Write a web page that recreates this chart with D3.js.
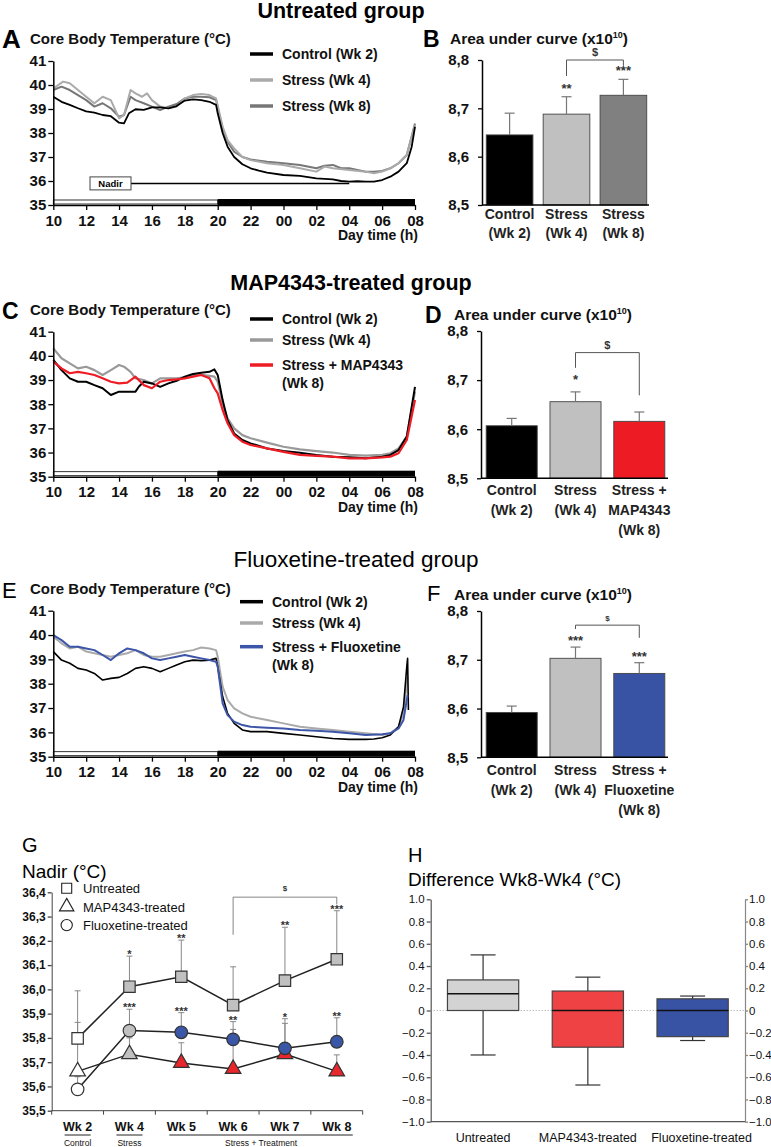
<!DOCTYPE html>
<html>
<head>
<meta charset="utf-8">
<script src="https://cdn.jsdelivr.net/npm/d3@7"></script>
<style>
  body { margin: 0; background: #fff; }
  svg { font-family: "Liberation Sans", Arial, sans-serif; }
</style>
</head>
<body>
<svg id="fig" width="771" height="1147"></svg>
<script>
// ---- Data ----------------------------------------------------------------
// Time axis: hours after 10:00 (0..22), temperatures in °C
var hourTicks = [0, 2, 4, 6, 8, 10, 12, 14, 16, 18, 20, 22];
var hourLabels = ["10", "12", "14", "16", "18", "20", "22", "00", "02", "04", "06", "08"];
var tempTicks = [35, 36, 37, 38, 39, 40, 41];

// A - Untreated group
var aControl = [[0,39.51],[0.5,39.3],[1,39.17],[1.5,39.03],[2,38.9],[2.5,38.85],[3,38.75],[3.5,38.7],[4,38.43],[4.3,38.4],[4.6,38.82],[5,38.99],[5.5,38.96],[6,39.07],[6.5,39.07],[7,39.03],[7.5,39.12],[8,39.35],[8.5,39.4],[9,39.37],[9.5,39.3],[9.9,39.17],[10,38.82],[10.3,38.0],[10.6,37.43],[11,37.0],[11.5,36.7],[12,36.53],[12.5,36.43],[13,36.35],[14,36.25],[15,36.21],[16,36.11],[17,36.07],[17.5,36.0],[18,35.97],[18.5,35.99],[19,35.97],[19.5,35.97],[20,36.04],[20.5,36.18],[21,36.39],[21.5,36.74],[21.8,37.43],[22,38.26]];
var aStress4 = [[0,39.86],[0.3,40.0],[0.6,40.14],[1,40.07],[1.5,39.79],[2,39.51],[2.5,39.24],[3,39.51],[3.5,39.37],[4,38.61],[4.3,38.75],[4.7,39.79],[5,39.65],[5.4,39.51],[5.7,39.65],[6,39.37],[6.5,39.1],[7,39.03],[7.5,39.1],[8,39.44],[8.5,39.58],[9,39.63],[9.5,39.58],[9.9,39.44],[10.3,38.26],[10.6,37.7],[11,37.36],[11.5,37.0],[12,36.87],[13,36.74],[14,36.67],[15,36.53],[16,36.39],[16.5,36.6],[17,36.53],[18,36.46],[19,36.39],[19.5,36.32],[20,36.39],[20.5,36.53],[21,36.74],[21.5,37.08],[22,38.33]];
var aStress8 = [[0,39.79],[0.5,39.93],[1,39.79],[1.5,39.58],[2,39.37],[2.5,39.1],[3,39.24],[3.5,39.03],[4,38.68],[4.3,38.75],[4.7,39.51],[5,39.37],[5.5,39.24],[6,39.1],[6.5,38.96],[7,39.1],[7.5,39.21],[8,39.44],[8.5,39.51],[9,39.51],[9.5,39.49],[9.9,39.37],[10.3,38.19],[10.6,37.64],[11,37.22],[11.5,37.0],[12,36.9],[13,36.8],[14,36.74],[15,36.67],[16,36.53],[16.5,36.64],[17,36.67],[17.5,36.53],[18,36.53],[18.5,36.46],[19,36.39],[19.5,36.39],[20,36.42],[20.5,36.53],[21,36.74],[21.5,37.08],[22,38.4]];

// C - MAP4343-treated group
var cControl = [[0,39.83],[0.5,39.41],[1,39.07],[1.5,38.93],[2,38.93],[2.5,38.79],[3,38.66],[3.5,38.38],[4,38.52],[4.5,38.52],[5,38.52],[5.2,38.72],[5.5,38.93],[6,38.86],[6.5,38.72],[7,38.86],[7.5,38.97],[8,39.14],[8.5,39.25],[9,39.3],[9.5,39.34],[9.8,39.44],[10,39.21],[10.3,38.17],[10.6,37.34],[11,36.79],[11.5,36.52],[12,36.38],[13,36.17],[14,36.06],[15,35.99],[16,35.9],[17,35.83],[18,35.8],[19,35.76],[20,35.83],[20.5,35.9],[21,36.1],[21.5,36.66],[22,38.72]];
var cStress4 = [[0,40.31],[0.5,39.9],[1,39.69],[1.5,39.48],[2,39.55],[2.5,39.41],[3,39.21],[3.5,39.41],[4,39.62],[4.3,39.55],[4.7,39.34],[5,39.07],[5.5,39.0],[6,38.86],[6.5,39.07],[7,39.07],[7.5,39.07],[8,39.11],[8.5,39.21],[9,39.21],[9.5,39.17],[9.8,39.14],[10,38.93],[10.3,38.03],[10.6,37.41],[11,37.0],[11.5,36.72],[12,36.59],[13,36.41],[14,36.24],[15,36.13],[16,36.06],[17,36.0],[18,35.9],[19,35.87],[20,35.9],[20.5,35.97],[21,36.17],[21.5,36.66],[22,38.52]];
var cMap8 = [[0,39.76],[0.5,39.48],[1,39.28],[1.5,39.34],[2,39.28],[2.5,39.21],[3,39.07],[3.5,38.93],[4,38.86],[4.5,38.89],[5,39.14],[5.5,38.79],[6,38.66],[6.5,38.93],[7,39.0],[7.5,39.03],[8,39.07],[8.5,39.14],[9,39.21],[9.5,39.07],[9.8,38.66],[10,38.45],[10.3,37.76],[10.6,37.21],[11,36.72],[11.5,36.45],[12,36.31],[13,36.17],[14,36.03],[15,35.9],[16,35.86],[17,35.83],[18,35.76],[19,35.76],[20,35.8],[20.5,35.83],[21,35.97],[21.5,36.52],[22,38.17]];

// E - Fluoxetine-treated group
var eControl = [[0,39.32],[0.5,38.97],[1,38.84],[1.5,38.63],[2,38.56],[2.5,38.42],[3,38.15],[3.5,38.22],[4,38.26],[4.5,38.42],[5,38.63],[5.5,38.7],[6,38.63],[6.5,38.49],[7,38.63],[7.5,38.77],[8,38.9],[8.5,38.97],[9,38.95],[9.5,38.97],[9.9,39.04],[10,38.7],[10.3,37.47],[10.6,36.78],[11,36.37],[11.5,36.1],[12,36.03],[13,36.03],[14,35.96],[15,35.89],[16,35.82],[17,35.75],[18,35.71],[19,35.71],[19.5,35.73],[20,35.78],[20.5,35.89],[21,36.23],[21.3,37.05],[21.5,38.7],[21.55,39.04],[21.6,36.92]];
var eStress4 = [[0,39.93],[0.5,39.66],[1,39.45],[1.5,39.52],[2,39.32],[2.5,39.25],[3,39.18],[3.5,39.11],[4,39.18],[4.5,39.25],[5,39.38],[5.5,39.18],[6,39.11],[6.5,39.11],[7,39.18],[7.5,39.25],[8,39.32],[8.5,39.38],[9,39.49],[9.5,39.45],[9.9,39.38],[10,39.11],[10.3,37.88],[10.6,37.33],[11,36.99],[11.5,36.78],[12,36.64],[13,36.51],[14,36.37],[15,36.23],[16,36.16],[17,36.1],[18,36.03],[19,35.96],[20,35.89],[20.5,35.96],[21,36.23],[21.3,36.78],[21.55,38.29]];
var eFluox8 = [[0,40.0],[0.5,39.79],[1,39.52],[1.5,39.52],[2,39.45],[2.5,39.38],[3,39.18],[3.5,38.97],[4,39.25],[4.5,39.45],[5,39.38],[5.5,39.25],[6,39.04],[6.5,38.97],[7,39.04],[7.5,39.11],[8,39.18],[8.5,39.11],[9,39.04],[9.5,38.97],[9.9,38.9],[10,38.7],[10.3,37.19],[10.6,36.71],[11,36.44],[11.5,36.3],[12,36.23],[13,36.19],[14,36.16],[15,36.1],[16,36.07],[17,36.03],[18,35.96],[19,35.89],[20,35.92],[20.5,35.96],[21,36.16],[21.3,36.51],[21.55,37.53]];

// B / D / F - area under curve (x10^10): mean and top of error bar
var aucTicks = [8.5, 8.6, 8.7, 8.8];
var bLabels = [["Control", "(Wk 2)"], ["Stress", "(Wk 4)"], ["Stress", "(Wk 8)"]];
var bMean = [8.645, 8.688, 8.727];
var bHi = [8.690, 8.724, 8.760];
var bStars = ["", "**", "***"];
var dLabels = [["Control", "(Wk 2)"], ["Stress", "(Wk 4)"], ["Stress +", "MAP4343", "(Wk 8)"]];
var dMean = [8.607, 8.656, 8.616];
var dHi = [8.622, 8.676, 8.635];
var dStars = ["", "*", ""];
var fLabels = [["Control", "(Wk 2)"], ["Stress", "(Wk 4)"], ["Stress +", "Fluoxetine", "(Wk 8)"]];
var fMean = [8.592, 8.703, 8.672];
var fHi = [8.605, 8.726, 8.694];
var fStars = ["", "***", "***"];

// G - nadir per week: mean and top of error bar
var weeks = ["Wk 2", "Wk 4", "Wk 5", "Wk 6", "Wk 7", "Wk 8"];
var nadirTicks = [35.5, 35.6, 35.7, 35.8, 35.9, 36.0, 36.1, 36.2, 36.3, 36.4];
var nadirUntreated = [35.798, 36.011, 36.052, 35.935, 36.036, 36.124];
var nadirUntreatedHi = [35.994, 36.137, 36.203, 36.093, 36.256, 36.324];
var nadirUntreatedStars = ["", "*", "**", "", "**", "***"];
var nadirMap = [35.662, 35.733, 35.697, 35.672, 35.733, 35.662];
var nadirMapHi = [35.864, 35.800, 35.780, 35.835, 35.860, 35.730];
var nadirFluox = [35.588, 35.830, 35.823, 35.794, 35.757, 35.784];
var nadirFluoxHi = [35.640, 35.918, 35.904, 35.867, 35.879, 35.883];
var nadirFluoxStars = ["", "***", "***", "**", "*", "**"];

// H - difference Wk8-Wk4 box plots
var diffGroups = ["Untreated", "MAP4343-treated", "Fluoxetine-treated"];
var diffTicks = [-1, -0.8, -0.6, -0.4, -0.2, 0, 0.2, 0.4, 0.6, 0.8, 1];
var diffMin = [-0.40, -0.67, -0.27];
var diffQ1 = [0.0, -0.33, -0.235];
var diffMed = [0.15, 0.0, 0.0];
var diffQ3 = [0.275, 0.175, 0.105];
var diffMax = [0.50, 0.30, 0.13];

// ---- Drawing -------------------------------------------------------------
var svg = d3.select("#fig");
var FONT = "'Liberation Sans', Arial, sans-serif";

function txt(g, x, y, s, size, weight, anchor, fill) {
    return g.append("text")
        .attr("x", x).attr("y", y).text(s)
        .attr("font-size", size)
        .attr("font-weight", weight || "normal")
        .attr("text-anchor", anchor || "start")
        .attr("fill", fill || "#000");
}

function styleAxis(sel, size, weight, color) {
    sel.select(".domain").attr("stroke", color || "#000").attr("stroke-width", 1.5);
    sel.selectAll(".tick line").attr("stroke", color || "#000").attr("stroke-width", 1.3);
    sel.selectAll(".tick text")
        .attr("font-size", size)
        .attr("font-weight", weight || "bold")
        .attr("font-family", FONT)
        .attr("fill", "#111");
}

// group titles
txt(svg, 341, 18, "Untreated group", 21.5, "bold", "middle");
txt(svg, 351, 290, "MAP4343-treated group", 21.5, "bold", "middle");
txt(svg, 356, 567, "Fluoxetine-treated group", 22.5, "normal", "middle");

// Core body temperature panels
function timePanel(o) {
    var g = svg.append("g");
    var x = d3.scaleLinear().domain([0, 22]).range([53.3, 415]);
    var y = d3.scaleLinear().domain([35, 41]).range([o.y35, o.y41]);

    // light / dark phase bar
    g.append("rect")
        .attr("x", x(0)).attr("y", y(35) - 5)
        .attr("width", x(10) - x(0)).attr("height", 4)
        .attr("fill", "#fff").attr("stroke", "#000").attr("stroke-width", 0.8);
    g.append("rect")
        .attr("x", x(10)).attr("y", y(35) - 6)
        .attr("width", x(22) - x(10)).attr("height", 6)
        .attr("fill", "#000");

    var line = d3.line().x(function(d) { return x(d[0]); }).y(function(d) { return y(d[1]); });
    o.series.forEach(function(s) {
        g.append("path").datum(s.data)
            .attr("d", line)
            .attr("fill", "none")
            .attr("stroke", s.color)
            .attr("stroke-width", s.w)
            .attr("stroke-linejoin", "round");
    });

    g.append("g")
        .attr("transform", "translate(" + x(0) + ",0)")
        .call(d3.axisLeft(y).tickValues(tempTicks).tickSize(5).tickSizeOuter(0).tickPadding(2).tickFormat(d3.format("d")))
        .call(styleAxis, 15);
    g.append("g")
        .attr("transform", "translate(0," + y(35) + ")")
        .call(d3.axisBottom(x).tickValues(hourTicks).tickSize(5).tickSizeOuter(0).tickPadding(5)
            .tickFormat(function(d, i) { return hourLabels[i]; }))
        .call(styleAxis, 15);

    txt(g, 2, o.y41 - 13, o.letter, o.letterSize, o.letterWeight);
    txt(g, 30, o.y41 - 17, "Core Body Temperature (°C)", 15, "bold", "start", "#111");
    txt(g, 418, y(35) + 35, "Day time (h)", 14, "bold", "end", "#111");

    // legend
    o.legend.forEach(function(l) {
        g.append("line")
            .attr("x1", o.lx).attr("x2", o.lx + 23)
            .attr("y1", l.y).attr("y2", l.y)
            .attr("stroke", l.color).attr("stroke-width", 3.5);
        l.text.forEach(function(t, i) {
            txt(g, o.lx + 32, l.y + 5 + i * 18, t, 14, "bold", "start", "#111");
        });
    });
    if (o.extra) o.extra(g, x, y);
}

timePanel({
    letter: "A", letterSize: 26, letterWeight: "bold",
    y35: 205, y41: 61, lx: 250,
    series: [
        { data: aStress8, color: "#777", w: 2 },
        { data: aStress4, color: "#aaa", w: 2 },
        { data: aControl, color: "#000", w: 1.8 }
    ],
    legend: [
        { y: 54, color: "#000", text: ["Control (Wk 2)"] },
        { y: 80, color: "#aaa", text: ["Stress (Wk 4)"] },
        { y: 106, color: "#777", text: ["Stress (Wk 8)"] }
    ],
    extra: function(g, x, y) {
        g.append("line")
            .attr("x1", 131).attr("x2", x(18))
            .attr("y1", y(35.9)).attr("y2", y(35.9))
            .attr("stroke", "#000").attr("stroke-width", 1.5);
        g.append("rect")
            .attr("x", 90).attr("y", y(35.9) - 6.5)
            .attr("width", 41).attr("height", 13)
            .attr("fill", "#fff").attr("stroke", "#444").attr("stroke-width", 1);
        txt(g, 110.5, y(35.9) + 3.5, "Nadir", 9.5, "bold", "middle");
    }
});

timePanel({
    letter: "C", letterSize: 23, letterWeight: "bold",
    y35: 476.7, y41: 331.7, lx: 250,
    series: [
        { data: cStress4, color: "#999", w: 2.2 },
        { data: cControl, color: "#000", w: 2 },
        { data: cMap8, color: "#ee1c25", w: 2.2 }
    ],
    legend: [
        { y: 319, color: "#000", text: ["Control (Wk 2)"] },
        { y: 340, color: "#999", text: ["Stress (Wk 4)"] },
        { y: 365, color: "#ee1c25", text: ["Stress + MAP4343", "(Wk 8)"] }
    ]
});

timePanel({
    letter: "E", letterSize: 22, letterWeight: "normal",
    y35: 756.7, y41: 610.7, lx: 240,
    series: [
        { data: eStress4, color: "#aaa", w: 2 },
        { data: eControl, color: "#000", w: 1.6 },
        { data: eFluox8, color: "#3d55a8", w: 2 }
    ],
    legend: [
        { y: 601.7, color: "#000", text: ["Control (Wk 2)"] },
        { y: 623, color: "#aaa", text: ["Stress (Wk 4)"] },
        { y: 646.7, color: "#3d55a8", text: ["Stress + Fluoxetine", "(Wk 8)"] }
    ]
});

// Area under curve bar panels
function barPanel(o) {
    var g = svg.append("g");
    var y = d3.scaleLinear().domain([8.5, 8.8]).range([o.y85, o.y88]);
    var x = d3.scaleBand().domain(d3.range(o.mean.length))
        .range([o.x0 + 2, o.x1]).paddingInner(o.pi).paddingOuter(o.po);
    var bw = x.bandwidth();

    g.selectAll(".bar").data(o.mean).enter().append("rect")
        .attr("x", function(d, i) { return x(i); })
        .attr("y", function(d) { return y(d); })
        .attr("width", bw)
        .attr("height", function(d) { return y(8.5) - y(d); })
        .attr("fill", function(d, i) { return o.colors[i]; })
        .attr("stroke", "#444").attr("stroke-width", 0.9);

    o.mean.forEach(function(m, i) {
        var cx = x(i) + bw / 2;
        g.append("line").attr("x1", cx).attr("x2", cx).attr("y1", y(m)).attr("y2", y(o.hi[i]))
            .attr("stroke", "#777").attr("stroke-width", 1.2);
        g.append("line").attr("x1", cx - 5).attr("x2", cx + 5).attr("y1", y(o.hi[i])).attr("y2", y(o.hi[i]))
            .attr("stroke", "#777").attr("stroke-width", 1.2);
        if (o.stars[i]) txt(g, cx, y(o.hi[i]) + o.starDy, o.stars[i], 13, "bold", "middle", "#333");
        o.labels[i].forEach(function(t, j) {
            txt(g, cx, y(8.5) + o.lab0 + j * o.lh, t, 14, "bold", "middle", "#222");
        });
    });

    // significance bracket
    var xl = x(1) + bw / 2, xr = x(2) + bw / 2;
    g.append("path")
        .attr("d", "M" + xl + "," + y(o.br[1]) + "V" + y(o.br[0]) + "H" + xr + "V" + y(o.br[2]))
        .attr("fill", "none").attr("stroke", "#555").attr("stroke-width", 1);
    txt(g, (xl + xr) / 2, y(o.br[0]) - 4, "$", o.dollarSize, "bold", "middle", "#333");

    g.append("g")
        .attr("transform", "translate(" + o.x0 + ",0)")
        .call(d3.axisLeft(y).tickValues(aucTicks).tickSize(4).tickSizeOuter(0).tickPadding(9)
            .tickFormat(function(d) { return d3.format(".1f")(d).replace(".", ","); }))
        .call(styleAxis, 15);
    g.append("line").attr("x1", o.x0).attr("x2", o.x1).attr("y1", y(8.5)).attr("y2", y(8.5))
        .attr("stroke", "#000").attr("stroke-width", 1.5);

    txt(g, o.letterX, o.letterY, o.letter, o.letterSize, o.letterWeight);
    var t = txt(g, o.titleX, o.titleY, "Area under curve (x10", 15.5, "bold", "start", "#111");
    t.append("tspan").attr("font-size", 9).attr("dy", -6).text("10");
    t.append("tspan").attr("dy", 6).text(")");
}

barPanel({
    letter: "B", letterX: 423, letterY: 47, letterSize: 23, letterWeight: "bold",
    titleX: 450, titleY: 44,
    y85: 205, y88: 60, x0: 482, x1: 649, pi: 0.18, po: 0.04,
    mean: bMean, hi: bHi, stars: bStars, labels: bLabels,
    colors: ["#000", "#c0c0c0", "#808080"],
    starDy: -4, lab0: 14, lh: 19,
    br: [8.8, 8.767, 8.788], dollarSize: 11
});

barPanel({
    letter: "D", letterX: 425, letterY: 323, letterSize: 23, letterWeight: "bold",
    titleX: 454, titleY: 320,
    y85: 478.3, y88: 331, x0: 481, x1: 668, pi: 0.2, po: 0.05,
    mean: dMean, hi: dHi, stars: dStars, labels: dLabels,
    colors: ["#000", "#c0c0c0", "#ed1c24"],
    starDy: -8, lab0: 17, lh: 20,
    br: [8.756, 8.725, 8.669], dollarSize: 11
});

barPanel({
    letter: "F", letterX: 427, letterY: 601, letterSize: 22, letterWeight: "normal",
    titleX: 454, titleY: 600,
    y85: 757.3, y88: 611, x0: 481, x1: 668, pi: 0.2, po: 0.05,
    mean: fMean, hi: fHi, stars: fStars, labels: fLabels,
    colors: ["#000", "#c0c0c0", "#3953a4"],
    starDy: -2, lab0: 18, lh: 20,
    br: [8.771, 8.763, 8.745], dollarSize: 8
});

// ---- G: nadir -------------------------------------------------------------
var gG = svg.append("g");
var gx = d3.scaleBand().domain(weeks).range([51.7, 362.7]);
var gy = d3.scaleLinear().domain([35.5, 36.4]).range([1110.7, 892.3]);
var gc = function(w) { return gx(w) + gx.bandwidth() / 2; };
var weekFill = function(i, late) { return i === 0 ? "#fff" : (i === 1 ? "#c0c0c0" : late); };

txt(gG, 22, 852, "G", 20, "normal");
txt(gG, 22, 878, "Nadir (°C)", 19, "normal");

gG.append("g")
    .attr("transform", "translate(51.7,0)")
    .call(d3.axisLeft(gy).tickValues(nadirTicks).tickSize(4).tickSizeOuter(0).tickPadding(2)
        .tickFormat(function(d) { return d3.format(".1f")(d).replace(".", ","); }))
    .call(styleAxis, 12, "bold", "#444");
gG.selectAll(".domain").attr("stroke-width", 1);
gG.append("line").attr("x1", 51.7).attr("x2", 362.7).attr("y1", gy(35.5)).attr("y2", gy(35.5))
    .attr("stroke", "#444").attr("stroke-width", 1);
weeks.concat(["end"]).forEach(function(w, i) {
    var xx = 51.7 + i * gx.step();
    gG.append("line").attr("x1", xx).attr("x2", xx).attr("y1", gy(35.5)).attr("y2", gy(35.5) + 4)
        .attr("stroke", "#444").attr("stroke-width", 1);
});

var nadirSeries = [
    { mean: nadirUntreated, hi: nadirUntreatedHi, stars: nadirUntreatedStars, shape: d3.symbolSquare, size: 130, late: "#c0c0c0" },
    { mean: nadirMap, hi: nadirMapHi, stars: null, shape: d3.symbolTriangle, size: 105, late: "#e8262b" },
    { mean: nadirFluox, hi: nadirFluoxHi, stars: nadirFluoxStars, shape: d3.symbolCircle, size: 125, late: "#3a56a6" }
];

// error bars
nadirSeries.forEach(function(s) {
    weeks.forEach(function(w, i) {
        var cx = gc(w);
        gG.append("line").attr("x1", cx).attr("x2", cx).attr("y1", gy(s.mean[i])).attr("y2", gy(s.hi[i]))
            .attr("stroke", "#888").attr("stroke-width", 1);
        gG.append("line").attr("x1", cx - 3).attr("x2", cx + 3).attr("y1", gy(s.hi[i])).attr("y2", gy(s.hi[i]))
            .attr("stroke", "#888").attr("stroke-width", 1);
    });
});
// connecting lines
var gLine = d3.line().x(function(d, i) { return gc(weeks[i]); }).y(function(d) { return gy(d); });
nadirSeries.forEach(function(s) {
    gG.append("path").datum(s.mean).attr("d", gLine)
        .attr("fill", "none").attr("stroke", "#222").attr("stroke-width", 1.5);
});
// markers
nadirSeries.forEach(function(s) {
    var sym = d3.symbol().type(s.shape).size(s.size);
    weeks.forEach(function(w, i) {
        gG.append("path").attr("d", sym())
            .attr("transform", "translate(" + gc(w) + "," + gy(s.mean[i]) + ")")
            .attr("fill", weekFill(i, s.late)).attr("stroke", "#333").attr("stroke-width", 1.2);
    });
    if (s.stars) {
        weeks.forEach(function(w, i) {
            if (s.stars[i]) txt(gG, gc(w), gy(s.hi[i]) + 2, s.stars[i], 11, "bold", "middle", "#333");
        });
    }
});

// $ bracket Wk6 - Wk8
gG.append("path")
    .attr("d", "M" + gc("Wk 6") + "," + gy(36.225) + "V" + gy(36.38) + "H" + gc("Wk 8") + "V" + gy(36.35))
    .attr("fill", "none").attr("stroke", "#666").attr("stroke-width", 0.8);
txt(gG, (gc("Wk 6") + gc("Wk 8")) / 2, gy(36.38) - 6, "$", 8, "bold", "middle", "#333");

// legend
[["Untreated", d3.symbolSquare, 100], ["MAP4343-treated", d3.symbolTriangle, 90], ["Fluoxetine-treated", d3.symbolCircle, 100]]
    .forEach(function(l, i) {
        var ly = 888.3 + i * 18.4;
        gG.append("path").attr("d", d3.symbol().type(l[1]).size(l[2])())
            .attr("transform", "translate(66.7," + ly + ")")
            .attr("fill", "#fff").attr("stroke", "#222").attr("stroke-width", 1.1);
        txt(gG, 83, ly + 5, l[0], 13, "normal", "start", "#111");
    });

// x labels with group underlines
weeks.forEach(function(w) { txt(gG, gc(w), 1131, w, 12.5, "bold", "middle", "#111"); });
[["Control", 0, 0], ["Stress", 1, 1], ["Stress + Treatment", 2, 5]].forEach(function(u) {
    var a = gc(weeks[u[1]]), b = gc(weeks[u[2]]);
    var x1 = u[1] === u[2] ? a - 13 : a - 12, x2 = u[1] === u[2] ? a + 13 : b + 16;
    gG.append("line").attr("x1", x1).attr("x2", x2).attr("y1", 1135).attr("y2", 1135)
        .attr("stroke", "#222").attr("stroke-width", 1);
    txt(gG, (x1 + x2) / 2, 1145.5, u[0], 8.5, "normal", "middle", "#111");
});

// ---- H: difference box plots ----------------------------------------------
var gH = svg.append("g");
var hx = d3.scaleBand().domain(diffGroups).range([430.7, 745]).paddingInner(0.32).paddingOuter(0.16);
var hy = d3.scaleLinear().domain([-1, 1]).range([1121.7, 899.3]);
var boxColors = ["#d3d3d3", "#ee4245", "#3953a4"];
var labelShift = [0, 0, 9];
var tickFmt = function(d) { return d === 0 ? "0" : d3.format(".1f")(d); };

txt(gH, 408, 862, "H", 20, "normal");
txt(gH, 408, 886, "Difference Wk8-Wk4 (°C)", 19, "normal");

gH.append("g").attr("transform", "translate(430.7,0)")
    .call(d3.axisLeft(hy).tickValues(diffTicks).tickSize(4).tickSizeOuter(0).tickPadding(2).tickFormat(tickFmt))
    .call(styleAxis, 11.5, "normal", "#555");
gH.append("g").attr("transform", "translate(745,0)")
    .call(d3.axisRight(hy).tickValues(diffTicks).tickSize(3).tickSizeOuter(0).tickPadding(1).tickFormat(tickFmt))
    .call(styleAxis, 11.5, "normal", "#888");
gH.selectAll(".domain").attr("stroke-width", 1.2);
gH.append("line").attr("x1", 430.7).attr("x2", 745).attr("y1", hy(-1)).attr("y2", hy(-1))
    .attr("stroke", "#555").attr("stroke-width", 1.2);
gH.append("line").attr("x1", 430.7).attr("x2", 745).attr("y1", hy(0)).attr("y2", hy(0))
    .attr("stroke", "#888").attr("stroke-width", 0.8).attr("stroke-dasharray", "1,2");

diffGroups.forEach(function(grp, i) {
    var x0 = hx(grp), bw = hx.bandwidth(), cx = x0 + bw / 2;
    gH.append("line").attr("x1", cx).attr("x2", cx).attr("y1", hy(diffMin[i])).attr("y2", hy(diffMax[i]))
        .attr("stroke", "#333").attr("stroke-width", 1.2);
    [diffMin[i], diffMax[i]].forEach(function(v) {
        gH.append("line").attr("x1", cx - 12.5).attr("x2", cx + 12.5).attr("y1", hy(v)).attr("y2", hy(v))
            .attr("stroke", "#333").attr("stroke-width", 1.2);
    });
    gH.append("rect").attr("x", x0).attr("y", hy(diffQ3[i]))
        .attr("width", bw).attr("height", hy(diffQ1[i]) - hy(diffQ3[i]))
        .attr("fill", boxColors[i]).attr("stroke", "#444").attr("stroke-width", 1.2);
    gH.append("line").attr("x1", x0).attr("x2", x0 + bw).attr("y1", hy(diffMed[i])).attr("y2", hy(diffMed[i]))
        .attr("stroke", "#111").attr("stroke-width", 1.6);
    txt(gH, cx + labelShift[i], 1142, grp, 12.5, "normal", "middle", "#111");
});
</script>
</body>
</html>
